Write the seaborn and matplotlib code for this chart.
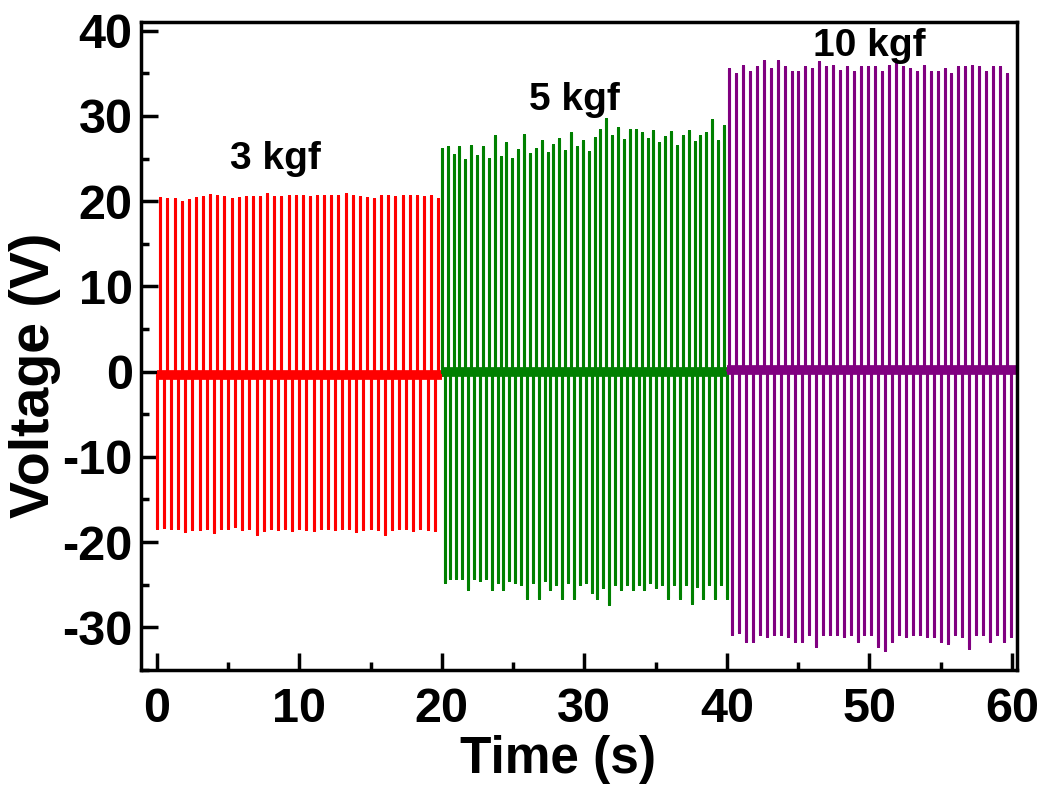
import numpy as np
import pandas as pd
import matplotlib
matplotlib.use("Agg")
import matplotlib.pyplot as plt
from matplotlib.ticker import MultipleLocator
import seaborn as sns

# load labels and colours
loads = ["3 kgf", "5 kgf", "10 kgf"]
colors = ["#ff0000", "#008000", "#800080"]

# segment timing (s): start/end of each segment, first positive / negative spike, spike period
seg_start = [0.0, 20.0, 40.0]
seg_end = [20.0, 40.0, 60.3]
first_pos = [0.25, 20.0, 40.15]
first_neg = [0.0, 20.2, 40.39]
period = [0.5, 0.4125, 0.488]
baseline = [-0.35, 0.0, 0.15]

# peak voltages (V)
pos_3 = [20.4, 20.3, 20.2, 19.9, 20.1, 20.4, 20.5, 20.7, 20.6, 20.5,
         20.3, 20.4, 20.5, 20.5, 20.5, 20.8, 20.5, 20.5, 20.6, 20.6,
         20.6, 20.5, 20.6, 20.6, 20.6, 20.6, 20.8, 20.6, 20.5, 20.4,
         20.3, 20.6, 20.6, 20.5, 20.6, 20.6, 20.6, 20.5, 20.6, 20.3]
neg_3 = [-18.4, -18.2, -18.3, -18.3, -18.7, -18.5, -18.5, -18.3, -18.8, -18.3,
         -18.4, -18.1, -18.5, -18.3, -19.0, -18.6, -18.4, -18.5, -18.3, -18.6,
         -18.4, -18.5, -18.6, -18.3, -18.4, -18.5, -18.3, -18.4, -18.7, -18.5,
         -18.3, -18.5, -19.1, -18.5, -18.3, -18.4, -18.6, -18.3, -18.5, -18.6]
pos_5 = [26.1, 26.3, 25.4, 26.4, 24.8, 26.5, 25.3, 26.3, 24.9, 27.6,
         25.2, 26.8, 25.0, 26.0, 27.8, 25.5, 26.1, 27.1, 25.6, 26.6,
         27.3, 25.9, 28.0, 26.3, 27.0, 25.8, 27.4, 28.3, 29.6, 27.6,
         28.6, 27.2, 28.4, 28.4, 28.0, 27.3, 28.2, 26.8, 27.5, 28.1,
         26.5, 27.6, 28.2, 26.9, 27.7, 28.0, 29.5, 27.0, 28.8]
neg_5 = [-24.7, -24.2, -24.2, -24.2, -25.5, -24.2, -24.5, -24.2, -25.5, -24.7,
         -25.5, -24.5, -24.7, -24.9, -26.5, -24.7, -26.5, -24.5, -25.5, -24.9,
         -26.5, -24.7, -26.5, -24.9, -24.7, -25.9, -26.5, -25.3, -27.3, -24.9,
         -25.5, -24.9, -25.5, -24.9, -25.5, -24.7, -25.3, -24.9, -26.5, -24.9,
         -26.5, -24.9, -27.1, -25.1, -26.5, -24.9, -26.5, -24.9, -26.5]
pos_10 = [35.5, 34.9, 35.9, 35.1, 35.7, 36.5, 35.5, 36.5, 35.7, 35.1,
          35.1, 35.7, 35.5, 36.3, 35.7, 35.9, 35.3, 35.7, 35.1, 35.7,
          35.7, 35.7, 35.1, 35.9, 36.3, 35.7, 35.5, 35.1, 35.9, 35.1,
          35.1, 35.5, 34.9, 35.7, 35.7, 35.9, 35.7, 35.1, 35.7, 35.7, 34.9]
neg_10 = [-30.8, -30.6, -31.6, -31.6, -30.8, -31.0, -30.8, -30.8, -31.0, -31.6,
          -31.6, -30.8, -32.2, -30.8, -30.8, -30.8, -31.0, -30.8, -31.6, -30.8,
          -30.8, -32.2, -32.6, -31.6, -30.8, -31.0, -30.8, -30.8, -31.0, -31.0,
          -31.6, -31.8, -30.8, -31.0, -32.4, -30.8, -30.8, -31.6, -30.8, -31.6, -31.0]

pos_peaks = [pos_3, pos_5, pos_10]
neg_peaks = [neg_3, neg_5, neg_10]

# label positions (s, V)
label_x = [8.35, 29.3, 50.0]
label_y = [24.9, 31.9, 38.2]

sns.set_style("ticks", {"axes.edgecolor": "black", "xtick.color": "black",
                        "ytick.color": "black", "text.color": "black",
                        "axes.labelcolor": "black"})
plt.rcParams["font.family"] = ["Liberation Sans", "DejaVu Sans"]
plt.rcParams["font.weight"] = "bold"
plt.rcParams["axes.unicode_minus"] = False

fig = plt.figure(figsize=(10.45, 7.91), dpi=100)
ax = fig.add_axes([0.135, 0.153, 0.838, 0.819])

for i in range(3):
    # spike times: each pulse has a negative and positive excursion
    tp = first_pos[i] + period[i] * np.arange(len(pos_peaks[i]))
    tn = first_neg[i] + period[i] * np.arange(len(neg_peaks[i]))
    ev = sorted(list(zip(tp, pos_peaks[i])) + list(zip(tn, neg_peaks[i])))
    b = baseline[i]
    xs, ys = [seg_start[i]], [b]
    for t, v in ev:
        xs += [t, t, t]
        ys += [b, v, b]
    xs.append(seg_end[i])
    ys.append(b)
    df = pd.DataFrame({"t": xs, "v": ys})
    # noisy baseline band
    band = pd.DataFrame({"t": [seg_start[i], seg_end[i]], "v": [b, b]})
    sns.lineplot(data=band, x="t", y="v", ax=ax, color=colors[i], lw=7,
                 estimator=None, sort=False, solid_capstyle="butt")
    sns.lineplot(data=df, x="t", y="v", ax=ax, color=colors[i], lw=2.2,
                 estimator=None, sort=False)
    ax.text(label_x[i], label_y[i], loads[i], fontsize=28, fontweight="bold",
            ha="center", va="center", color="black")

ax.set_xlim(-1.1, 60.35)
ax.set_ylim(-35, 41)
ax.xaxis.set_major_locator(MultipleLocator(10))
ax.xaxis.set_minor_locator(MultipleLocator(5))
ax.yaxis.set_major_locator(MultipleLocator(10))
ax.yaxis.set_minor_locator(MultipleLocator(5))
ax.set_yticks(range(-30, 41, 10))
ax.tick_params(which="major", direction="in", length=12, width=2.5,
               labelsize=35, top=False, right=False, colors="black")
ax.tick_params(which="minor", direction="in", length=6, width=2.5,
               top=False, right=False, colors="black")
ax.tick_params(axis="x", which="major", pad=12)
ax.tick_params(axis="y", which="major", pad=6)
for lab in ax.get_xticklabels() + ax.get_yticklabels():
    lab.set_fontweight("bold")
for s in ax.spines.values():
    s.set_linewidth(2.5)
    s.set_color("black")
    s.set_visible(True)

ax.set_xlabel("Time (s)", fontsize=37, fontweight="bold", color="black")
ax.set_ylabel("Voltage (V)", fontsize=40, fontweight="bold", color="black")
ax.xaxis.set_label_coords(0.476, -0.1)
ax.yaxis.set_label_coords(-0.092, 0.455)

fig.savefig("out.png", dpi=100)
